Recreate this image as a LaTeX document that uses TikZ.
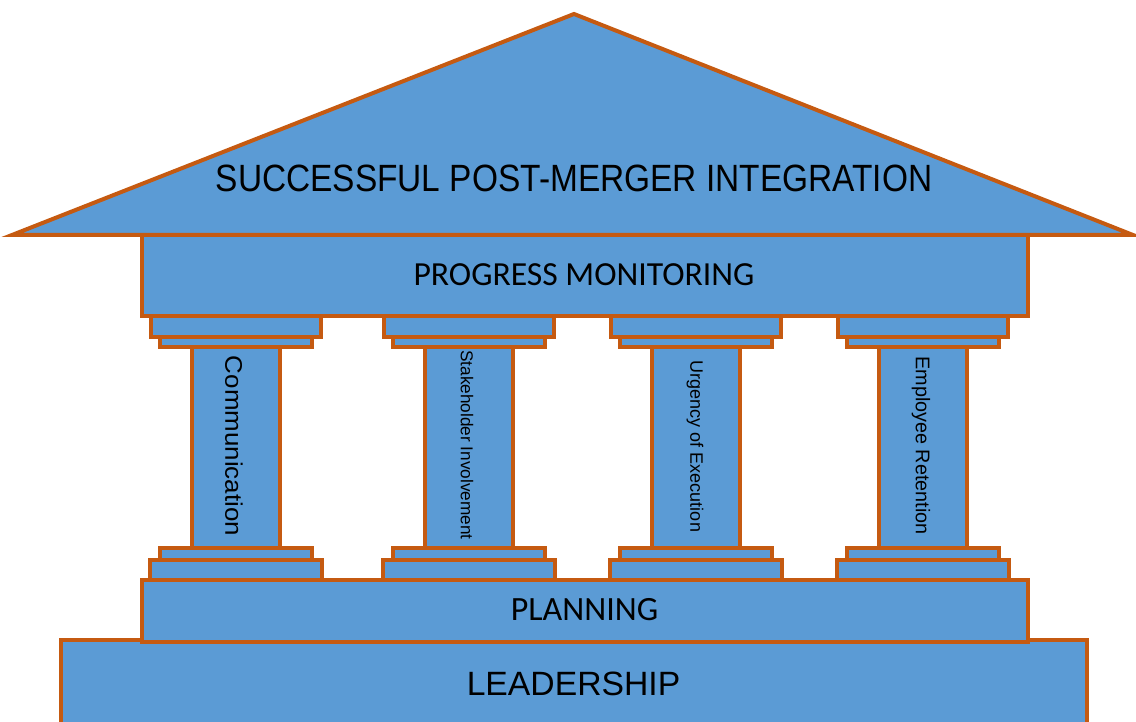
\documentclass[tikz,border=0pt]{standalone}
\usepackage{fontspec}
\setmainfont{Liberation Sans}
\newfontfamily\calfont{Carlito}
\definecolor{fillblue}{HTML}{5B9BD5}
\definecolor{edgeorange}{HTML}{C55A11}
\tikzset{
  part/.style={draw=edgeorange, fill=fillblue, line width=4pt, line join=miter},
  lbl/.style={inner sep=0pt, text=black},
}
\begin{document}
\begin{tikzpicture}[x=1pt, y=-1pt]
\useasboundingbox (0,0) rectangle (1136,722);
\begin{scope}
\clip (0,0) rectangle (1136,722);
% foundation
\path[part] (61,640) rectangle (1087,760);
\path[part] (142,580) rectangle (1028,642);
% roof
\path[part] (574,14) -- (1133,235) -- (12,235) -- cycle;
\path[part] (142,235) rectangle (1028,316);
% columns
\foreach \cx/\i in {236/1, 469/2, 696/3, 923/4}{
  \path[part] (\cx-85,316) rectangle (\cx+85,337);
  \path[part] (\cx-76,337) rectangle (\cx+76,347);
  \path[part] (\cx-44,347) rectangle (\cx+44,548);
  \path[part] (\cx-76,548) rectangle (\cx+76,560);
  \path[part] (\cx-86,560) rectangle (\cx+86,580);
}
\end{scope}
\node[lbl, xscale=0.88, font=\fontsize{38}{44}\selectfont] (roof) at (574,178) {SUCCESSFUL POST-MERGER INTEGRATION};
\node[lbl, font=\calfont\fontsize{33.7}{38}\selectfont] (mon) at (584,275) {PROGRESS MONITORING};
\node[lbl, font=\calfont\fontsize{34}{38}\selectfont] (plan) at (584.5,610) {PLANNING};
\node[lbl, font=\fontsize{33.7}{40}\selectfont] (lead) at (573.5,684) {LEADERSHIP};
\node[lbl, rotate=-90, xscale=1.08, font=\fontsize{24}{28}\selectfont] (c1) at (234,446) {Communication};
\node[lbl, rotate=-90, font=\fontsize{17.2}{20}\selectfont] (c2) at (467,445) {Stakeholder Involvement};
\node[lbl, rotate=-90, font=\fontsize{18}{20}\selectfont] (c3) at (695,446.5) {Urgency of Execution};
\node[lbl, rotate=-90, font=\fontsize{19.8}{22}\selectfont] (c4) at (921,445.5) {Employee Retention};
\end{tikzpicture}
\end{document}
